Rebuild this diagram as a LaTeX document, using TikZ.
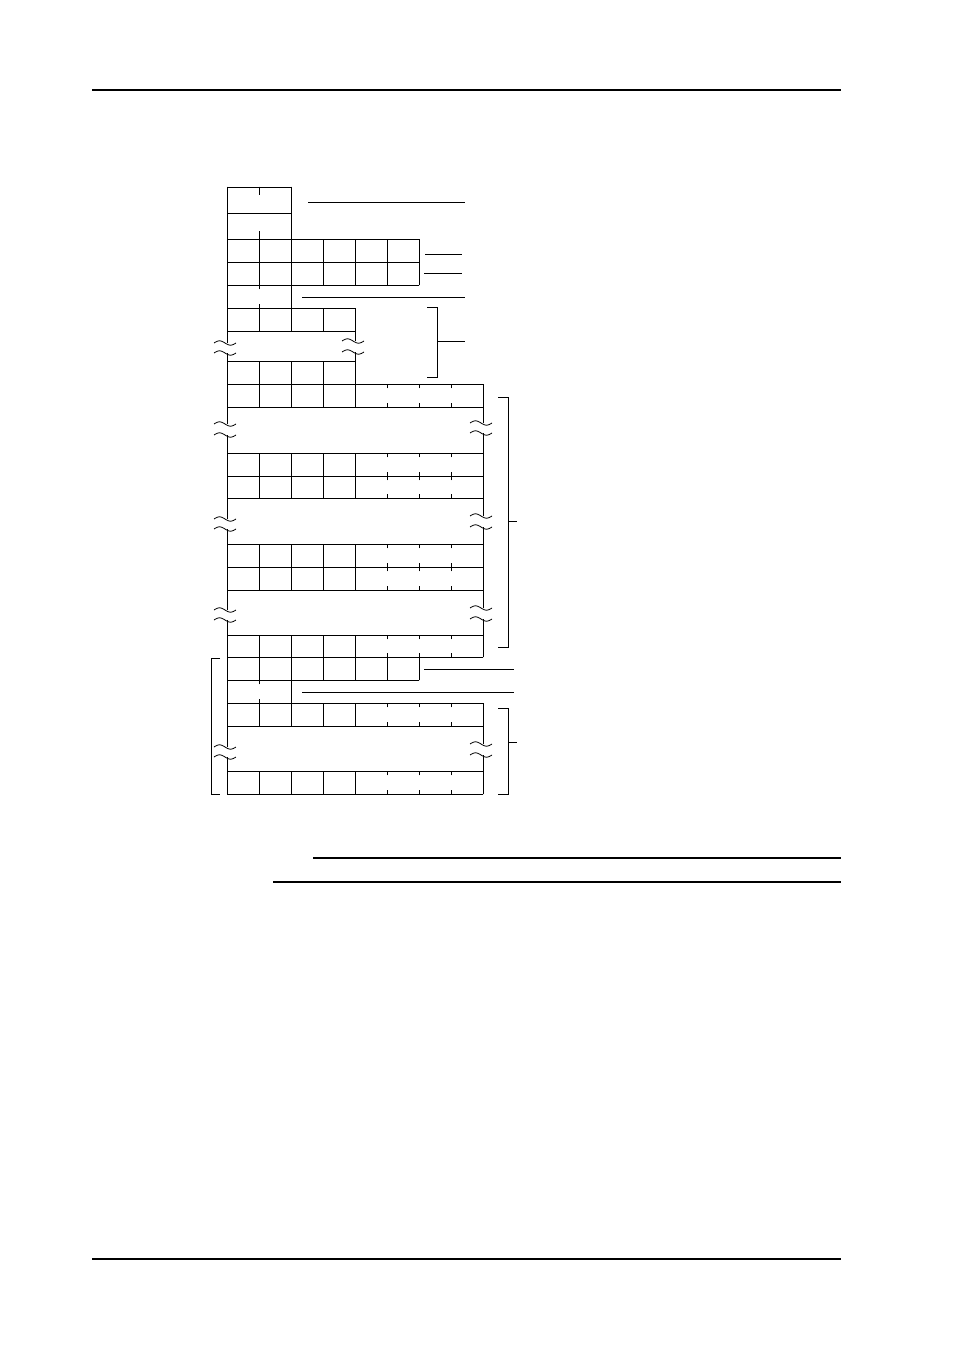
\documentclass[tikz,border=0pt]{standalone}
\begin{document}
\begin{tikzpicture}[x=1pt,y=-1pt,
  grid/.style={line width=0.8pt,line cap=rect},
  rule/.style={line width=1.3pt},
  thickrule/.style={line width=1.9pt},
  lead/.style={line width=0.8pt}]
\useasboundingbox (0,0) rectangle (954,1351);
% page rules
\draw[rule] (92,90) -- (841,90);
\draw[rule] (92,1259) -- (841,1259);
\draw[thickrule] (313,858) -- (841,858);
\draw[thickrule] (273,882) -- (841,882);
% 8-cell row macro
\newcommand{\octrow}[2]{%
  \draw[grid] (227,#1) -- (483,#1);
  \draw[grid] (227,#2) -- (483,#2);
  \foreach \xx in {259,291,323,355} {\draw[grid] (\xx,#1) -- (\xx,#2);}
  \foreach \xx in {387,419,451} {\draw[grid] (\xx,#1) -- ++(0,4); \draw[grid] (\xx,#2) -- ++(0,-4);}
}
\newcommand{\wavemark}[2]{%
  \draw[line width=0.8pt] plot[domain=0:1,samples=17,smooth] ({#1-11+22*\x},{#2-2.2*sin(360*\x)});
}
% top block
\draw[grid] (227,187) -- (291,187);
\draw[grid] (227,213) -- (291,213);
\draw[grid] (259,187) -- (259,195);
\draw[grid] (259,231) -- (259,239);
% six-cell rows
\foreach \yy in {239,262,285} {\draw[grid] (227,\yy) -- (419,\yy);}
\foreach \xx in {259,323,355,387,419} {\draw[grid] (\xx,239) -- (\xx,285);}
% two-cell row
\draw[grid] (259,285) -- (259,289);
\draw[grid] (259,304) -- (259,308);
% four-cell rows
\foreach \yy in {308,331,361,384} {\draw[grid] (227,\yy) -- (355,\yy);}
\foreach \xx in {259,323} {\draw[grid] (\xx,308) -- (\xx,331); \draw[grid] (\xx,361) -- (\xx,384);}
\draw[grid] (355,308) -- (355,341);
\draw[grid] (355,352) -- (355,384);
\draw[grid] (291,187) -- (291,331);
\draw[grid] (291,361) -- (291,384);
% eight-cell rows
\octrow{384}{407}
\octrow{453}{476}
\octrow{476}{498}
\octrow{544}{567}
\octrow{567}{590}
\octrow{635}{657}
\octrow{703}{726}
\octrow{771}{794}
% six-cell row lower
\draw[grid] (227,680) -- (419,680);
\foreach \xx in {259,291,323,355,387,419} {\draw[grid] (\xx,657) -- (\xx,680);}
\draw[grid] (259,680) -- (259,684);
\draw[grid] (259,699) -- (259,703);
\draw[grid] (291,680) -- (291,703);
% left edge
\draw[grid] (227,187) -- (227,343);
\draw[grid] (227,353) -- (227,424);
\draw[grid] (227,435) -- (227,519);
\draw[grid] (227,529) -- (227,610);
\draw[grid] (227,620) -- (227,747);
\draw[grid] (227,757) -- (227,794);
% right edge
\draw[grid] (483,384) -- (483,423);
\draw[grid] (483,433) -- (483,516);
\draw[grid] (483,527) -- (483,608);
\draw[grid] (483,619) -- (483,657);
\draw[grid] (483,703) -- (483,744);
\draw[grid] (483,755) -- (483,794);
% break marks
\wavemark{225}{343}\wavemark{225}{353}
\wavemark{353}{341}\wavemark{353}{352}
\wavemark{225}{424}\wavemark{225}{435}
\wavemark{481}{423}\wavemark{481}{433}
\wavemark{225}{519}\wavemark{225}{529}
\wavemark{481}{516}\wavemark{481}{527}
\wavemark{225}{610}\wavemark{225}{620}
\wavemark{481}{608}\wavemark{481}{619}
\wavemark{225}{747}\wavemark{225}{757}
\wavemark{481}{744}\wavemark{481}{755}
% leader lines
\draw[lead] (308,202) -- (465,202);
\draw[lead] (425,254) -- (462,254);
\draw[lead] (424,273) -- (462,273);
\draw[lead] (302,297) -- (465,297);
\draw[lead] (424,669) -- (514,669);
\draw[lead] (302,692) -- (514,692);
% brackets
\draw[lead] (427,307) -- (437,307) -- (437,377) -- (427,377);
\draw[lead] (437,341) -- (465,341);
\draw[lead] (498,397) -- (508,397) -- (508,647) -- (498,647);
\draw[lead] (508,521) -- (517,521);
\draw[lead] (498,708) -- (508,708) -- (508,794) -- (498,794);
\draw[lead] (508,742) -- (517,742);
\draw[lead] (220,658) -- (211,658) -- (211,794) -- (220,794);
\end{tikzpicture}
\end{document}
